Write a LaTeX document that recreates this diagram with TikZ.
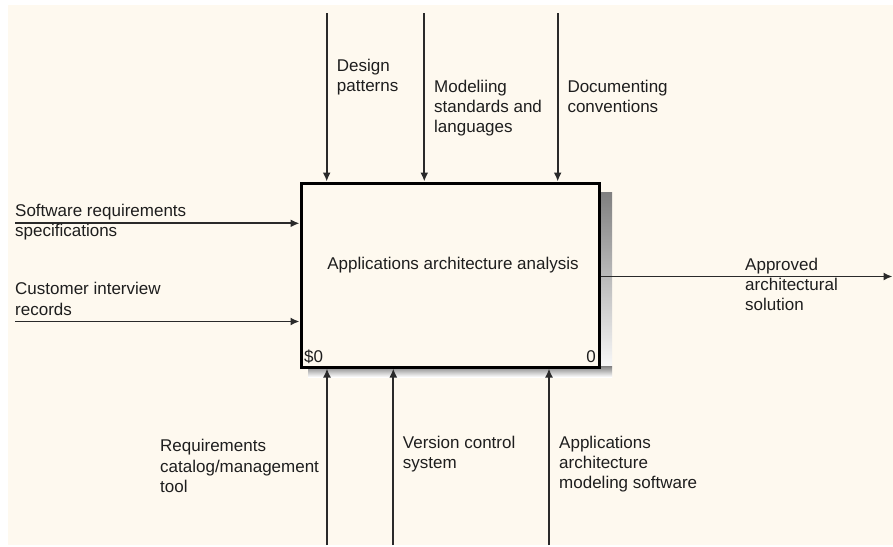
\documentclass[tikz,border=0pt]{standalone}
\usepackage{fontspec}
\setmainfont{Liberation Sans}
\usetikzlibrary{arrows.meta}
\definecolor{paper}{HTML}{FEF9EF}
\definecolor{ink}{HTML}{1E1E1E}
\definecolor{wire}{HTML}{2A2A2A}
\definecolor{shade}{HTML}{9A968F}
\begin{document}
\begin{tikzpicture}[x=1pt,y=-1pt,
  lbl/.style={anchor=base west, align=left, inner sep=0pt,
    font=\fontsize{17}{20.3}\selectfont, text=ink},
  boxtext/.style={inner sep=0pt, font=\fontsize{17}{20.3}\selectfont, text=ink},
  flow/.style={draw=wire, line width=1.7pt, -{Latex[length=9pt,width=8pt]}},
]
\useasboundingbox (0,0) rectangle (893,546);
\fill[white] (0,0) rectangle (893,546);
\fill[paper] (8,5) rectangle (893,545);

% drop shadow of the activity box: right strip and bottom strip
\fill[shade] (600,192) rectangle (612,377);
\fill[shade] (308,366) rectangle (612,377);

% activity box
\node[draw=black, line width=3pt, fill=paper, minimum width=298pt,
  minimum height=184pt, inner sep=0pt] (act) at (450,275) {};
\node[boxtext, anchor=base] (actname) at (453,269) {Applications architecture analysis};
\node[boxtext, anchor=base west] (cost) at (304,362) {\$0};
\node[boxtext, anchor=base east] (num) at (596,362) {0};

% free ends of the arrows
\coordinate (t1) at (326.7,13);
\coordinate (t2) at (424.3,13);
\coordinate (t3) at (557.7,13);
\coordinate (b1) at (327,545);
\coordinate (b2) at (393.3,545);
\coordinate (b3) at (549,545);
\coordinate (l1) at (15,223.3);
\coordinate (l2) at (15,321.5);
\coordinate (o1) at (892.5,276.5);

% controls
\draw[flow] (t1) -- (t1 |- act.north);
\draw[flow] (t2) -- (t2 |- act.north);
\draw[flow] (t3) -- (t3 |- act.north);
% mechanisms
\draw[flow] (b1) -- (b1 |- act.south);
\draw[flow] (b2) -- (b2 |- act.south);
\draw[flow] (b3) -- (b3 |- act.south);
% inputs
\draw[flow] (l1) -- (l1 -| act.west);
\draw[flow] (l2) -- (l2 -| act.west);
% output
\draw[flow] (act.east |- o1) -- (o1);

% arrow labels (placed by the baseline of their last line)
\node[lbl] (c1) at (336.7,91.7) {Design\\patterns};
\node[lbl] (c2) at (434,132.9) {Modeliing\\standards and\\languages};
\node[lbl] (c3) at (567.3,112.6) {Documenting\\conventions};
\node[lbl] (i1) at (15,236.7) {Software requirements\\specifications};
\node[lbl] (i2) at (15,315) {Customer interview\\records};
\node[lbl] (m1) at (160,492.3) {Requirements\\catalog/management\\tool};
\node[lbl] (m2) at (402.7,468.3) {Version control\\system};
\node[lbl] (m3) at (559,488.9) {Applications\\architecture\\modeling software};
\node[lbl] (o) at (745,310.6) {Approved\\architectural\\solution};
\end{tikzpicture}
\end{document}
